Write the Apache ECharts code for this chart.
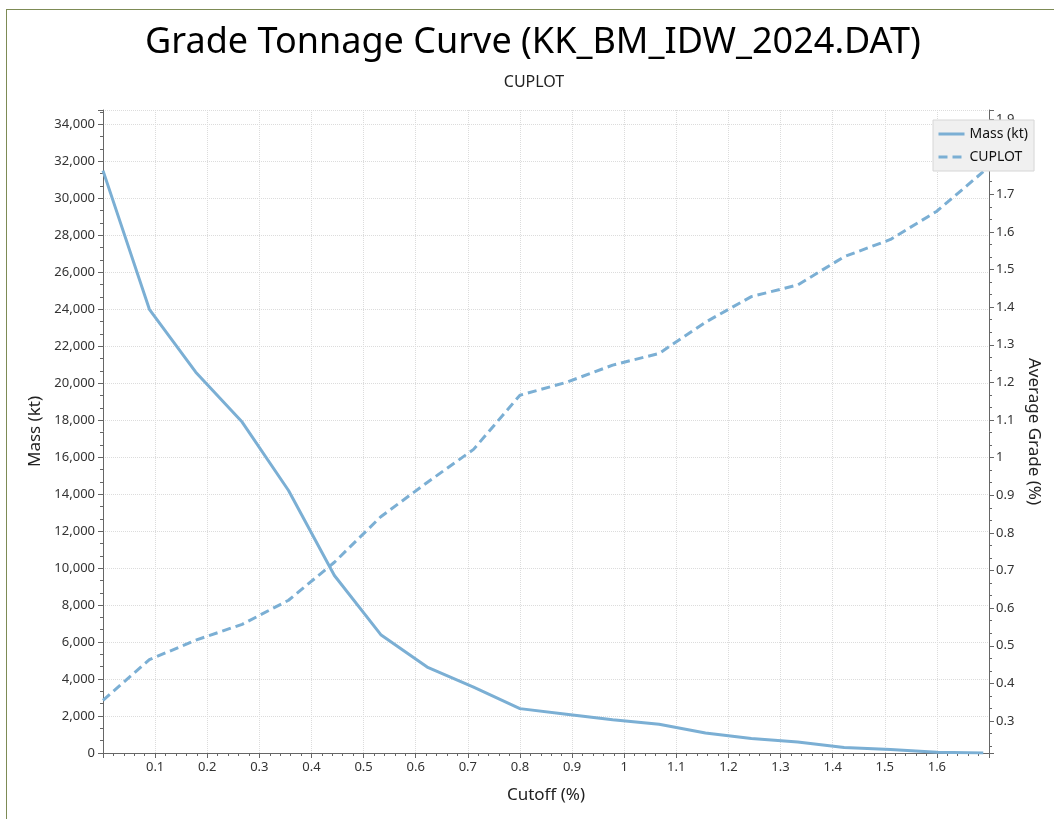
<!DOCTYPE html>
<head>
    <meta charset="utf-8"/>
    <style>
        html, body {
            margin: 0;
            height: 100%;
            background-color: #fff;
        }
        #frame {
            position: absolute;
            left: 6px;
            top: 9px;
            right: 0;
            bottom: 0;
            border-left: 1px solid #7d8b55;
            border-top: 1px solid #7d8b55;
            pointer-events: none;
        }
    </style>
    <script src="https://cdn.jsdelivr.net/npm/echarts@6/dist/echarts.min.js"></script>
</head>
<body>
<div id="main" style="position: absolute; left: 0; top: 0; width: 1054px; height: 819px;"></div>
<div id="frame"></div>
<script type="text/javascript">
    // cutoff grades (%)
    var cutoffs = [0, 0.089, 0.178, 0.267, 0.356, 0.444, 0.533, 0.622, 0.711, 0.8,
        0.889, 0.978, 1.067, 1.156, 1.244, 1.333, 1.422, 1.511, 1.6, 1.689];
    // tonnage above cutoff (kt)
    var mass = [31500, 24000, 20600, 17900, 14200, 9600, 6400, 4650, 3560, 2400,
        2100, 1800, 1560, 1080, 790, 600, 300, 190, 40, 0];
    // average grade above cutoff (%)
    var grade = [0.355, 0.463, 0.515, 0.557, 0.621, 0.722, 0.843, 0.934, 1.022, 1.166,
        1.2, 1.246, 1.277, 1.36, 1.428, 1.459, 1.534, 1.58, 1.655, 1.76];

    var lineColor = '#7bafd4';
    var font = 'Noto Sans';

    function pairs(ys) {
        var out = [];
        for (var i = 0; i < cutoffs.length; i++) out.push([cutoffs[i], ys[i]]);
        return out;
    }

    var myChart = echarts.init(document.getElementById('main'));
    var options = {
        animation: false,
        textStyle: {fontFamily: font},
        graphic: [
            {type: 'text', x: 533, y: 25, style: {text: 'Grade Tonnage Curve (KK_BM_IDW_2024.DAT)',
                fontSize: 36, fontFamily: font, fill: '#000', textAlign: 'center'}},
            {type: 'text', x: 534, y: 74, style: {text: 'CUPLOT',
                fontSize: 16, fontFamily: font, fill: '#222', textAlign: 'center'}}
        ],
        legend: {
            orient: 'vertical',
            left: 933,
            top: 120,
            backgroundColor: '#f0f0f0',
            borderColor: '#d6d6d6',
            borderWidth: 1,
            borderRadius: 0,
            padding: [7, 6, 7, 4],
            itemGap: 9,
            itemWidth: 26,
            itemHeight: 12,
            itemStyle: {opacity: 0},
            lineStyle: {width: 3},
            textStyle: {fontSize: 14, color: '#111', fontFamily: font}
        },
        grid: {left: 103, right: 65, top: 110, bottom: 66},
        xAxis: {
            type: 'value',
            min: 0,
            max: 1.7,
            interval: 0.1,
            name: 'Cutoff (%)',
            nameLocation: 'middle',
            nameGap: 34,
            nameTextStyle: {fontSize: 17, color: '#222'},
            axisLine: {lineStyle: {color: '#666'}},
            axisTick: {length: 5, lineStyle: {color: '#666'}},
            minorTick: {show: true, splitNumber: 5, length: 3, lineStyle: {color: '#666'}},
            axisLabel: {showMinLabel: false, showMaxLabel: false, color: '#333', fontSize: 13, margin: 8},
            splitLine: {show: true, lineStyle: {color: '#dcdcdc', type: 'dotted'}}
        },
        yAxis: [{
            type: 'value',
            min: 0,
            max: 34780,
            interval: 2000,
            name: 'Mass (kt)',
            nameLocation: 'middle',
            nameGap: 47,
            nameTextStyle: {fontSize: 17, color: '#222'},
            axisLine: {show: true, lineStyle: {color: '#666'}},
            axisTick: {show: true, length: 5, lineStyle: {color: '#666'}},
            minorTick: {show: true, splitNumber: 3, length: 3, lineStyle: {color: '#666'}},
            axisLabel: {showMaxLabel: false, color: '#333', fontSize: 13, margin: 8,
                formatter: function (v) { return v.toLocaleString('en-US'); }},
            splitLine: {show: true, lineStyle: {color: '#dcdcdc', type: 'dotted'}}
        }, {
            type: 'value',
            position: 'right',
            min: 0.215,
            max: 1.924,
            minInterval: 0.1,
            maxInterval: 0.1,
            name: 'Average Grade (%)',
            nameLocation: 'middle',
            nameGap: 25,
            nameRotate: -90,
            nameTextStyle: {fontSize: 17, color: '#222'},
            axisLine: {show: true, lineStyle: {color: '#666'}},
            axisTick: {show: true, length: 5, lineStyle: {color: '#666'}},
            minorTick: {show: true, splitNumber: 3, length: 3, lineStyle: {color: '#666'}},
            axisLabel: {showMinLabel: false, showMaxLabel: false, color: '#333', fontSize: 13, margin: 7},
            splitLine: {show: false}
        }],
        series: [{
            name: 'Mass (kt)',
            type: 'line',
            yAxisIndex: 0,
            symbol: 'none',
            lineStyle: {color: lineColor, width: 3},
            itemStyle: {color: lineColor},
            data: pairs(mass)
        }, {
            name: 'CUPLOT',
            type: 'line',
            yAxisIndex: 1,
            symbol: 'none',
            lineStyle: {color: lineColor, width: 3, type: [9, 5]},
            itemStyle: {color: lineColor},
            data: pairs(grade)
        }]
    };
    myChart.setOption(options);
</script>
</body>
